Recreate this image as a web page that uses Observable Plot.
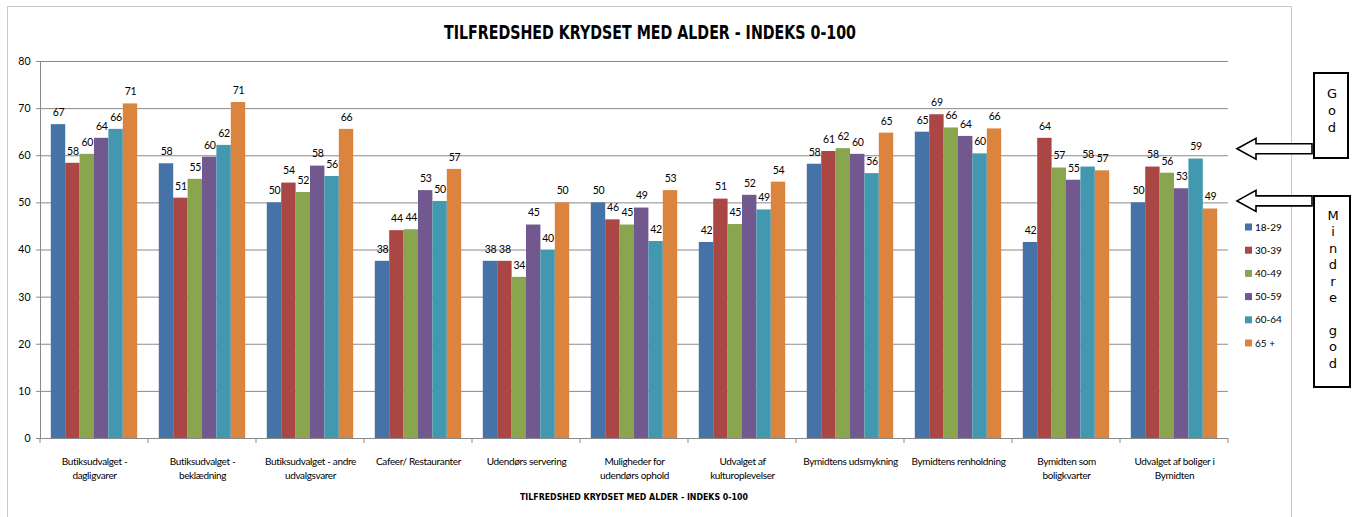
<!DOCTYPE html>
<html><head><meta charset="utf-8">
<script src="https://cdn.jsdelivr.net/npm/d3@7"></script>
<script src="https://cdn.jsdelivr.net/npm/@observablehq/plot@0.6"></script>
<style>
body{margin:0;background:#fff;}
#wrap{position:relative;width:1356px;height:517px;overflow:hidden;background:#fff;}
#wrap svg{position:absolute;left:0;top:0;}
#wrap svg g[aria-label="fx-axis tick label"] text{letter-spacing:-0.35px;}
#wrap svg g[aria-label="text"] text{letter-spacing:-0.3px;}
</style></head><body><div id="wrap"></div>
<script>
const categories = ["Butiksudvalget - dagligvarer","Butiksudvalget - beklædning","Butiksudvalget - andre udvalgsvarer","Cafeer/ Restauranter","Udendørs servering","Muligheder for udendørs ophold","Udvalget af kulturoplevelser","Bymidtens udsmykning","Bymidtens renholdning","Bymidten som boligkvarter","Udvalget af boliger i Bymidten"];
const categoryLabels = ["Butiksudvalget -\ndagligvarer","Butiksudvalget -\nbeklædning","Butiksudvalget - andre\nudvalgsvarer","Cafeer/ Restauranter","Udendørs servering","Muligheder for\nudendørs ophold","Udvalget af\nkulturoplevelser","Bymidtens udsmykning","Bymidtens renholdning","Bymidten som\nboligkvarter","Udvalget af boliger i\nBymidten"];
const series = ["18-29","30-39","40-49","50-59","60-64","65 +"];
const colors = ["#4572A7","#AA4643","#89A54E","#71588F","#4198AF","#DB843D"];
const v18_29 = [66.6, 58.3, 50.0, 37.6, 37.6, 50.0, 41.6, 58.2, 65.0, 41.6, 50.0];
const v30_39 = [58.4, 51.0, 54.2, 44.1, 37.6, 46.4, 50.8, 60.9, 68.7, 63.7, 57.6];
const v40_49 = [60.3, 55.0, 52.2, 44.3, 34.2, 45.3, 45.4, 61.5, 65.9, 57.4, 56.3];
const v50_59 = [63.7, 59.7, 57.8, 52.6, 45.3, 48.9, 51.6, 60.3, 64.1, 54.8, 53.0];
const v60_64 = [65.6, 62.2, 55.6, 50.3, 39.9, 41.8, 48.5, 56.2, 60.4, 57.6, 59.3];
const v65plus = [71.0, 71.3, 65.6, 57.1, 50.0, 52.6, 54.4, 64.8, 65.7, 56.8, 48.7];
const yTicks = [0, 10, 20, 30, 40, 50, 60, 70, 80];
const titleText = "TILFREDSHED KRYDSET MED ALDER - INDEKS 0-100";
const xTitleText = "TILFREDSHED KRYDSET  MED ALDER - INDEKS 0-100";
const noteGood = "God";
const noteLess = "Mindre god";
const noteGoodLevel = 60;
const noteLessLevel = 50;

const valuesBySeries = [v18_29, v30_39, v40_49, v50_59, v60_64, v65plus];
const data = categories.flatMap((c, i) => series.map((s, j) => ({category: c, series: s, value: valuesBySeries[j][i]})));
const labelOf = new Map(categories.map((c, i) => [c, categoryLabels[i]]));

const FONT = "Lato, 'Open Sans', sans-serif";
const TFONT = "'DejaVu Sans Condensed', 'DejaVu Sans', sans-serif";
const W = 1356, H = 517, ML = 40, MR = 128, MT = 61, MB = 79;
const PAD = 0.2;
const step = (W - ML - MR) / categories.length;
const halfGap = PAD * step / 2;

const plot = Plot.plot({
  width: W, height: H, marginLeft: ML, marginRight: MR, marginTop: MT, marginBottom: MB,
  style: {fontFamily: FONT, fontSize: "10.5px", background: "transparent", color: "#000", overflow: "visible"},
  fx: {domain: categories, paddingInner: PAD, paddingOuter: PAD / 2, round: false, label: null, axis: null},
  x: {domain: series, padding: 0, axis: null, round: false},
  y: {domain: [0, 80], label: null, axis: null},
  color: {domain: series, range: colors},
  marks: [
    Plot.ruleY(yTicks, {stroke: "#8a8a8a", strokeWidth: 1, insetLeft: -halfGap, insetRight: -halfGap}),
    Plot.barY(data, {fx: "category", x: "series", y: "value", fill: "series"}),
    Plot.text(data, {fx: "category", x: "series", y: "value", text: d => d3.format(".0f")(d.value), dy: -12, fill: "#000", fontSize: 10.5}),
    Plot.axisY({ticks: yTicks, tickSize: 4, tickPadding: 6, stroke: "#8a8a8a", fill: "#000", label: null, fontSize: 10.5, dx: -halfGap}),
    Plot.axisFx({anchor: "bottom", tickSize: 0, tickPadding: 17, lineHeight: 1.35, tickFormat: d => labelOf.get(d), label: null, fontSize: 10, fill: "#000"})
  ]
});
const wrap = document.getElementById("wrap");
wrap.appendChild(plot);

// Overlay: frame, axis lines, title, legend, notes
const fx = plot.scale("fx"), ys = plot.scale("y");
const y0 = ys.apply(0);
const yTop = ys.apply(80);
const x0 = fx.range[0], x1 = fx.range[1];
const svg = d3.select(wrap).append("svg").attr("width", W).attr("height", H)
  .style("font-family", FONT);
svg.append("rect").attr("x", 7.5).attr("y", 6.5).attr("width", 1291 - 7).attr("height", 600)
  .attr("fill", "none").attr("stroke", "#c8c8c8");
svg.append("line").attr("x1", x0 + 0.5).attr("x2", x0 + 0.5).attr("y1", yTop).attr("y2", y0)
  .attr("stroke", "#8a8a8a");
const n = categories.length;
for (let k = 0; k <= n; k++) {
  const x = x0 + k * (x1 - x0) / n;
  svg.append("line").attr("x1", x).attr("x2", x).attr("y1", y0).attr("y2", y0 + 5).attr("stroke", "#8a8a8a");
}
svg.append("text").attr("x", 650).attr("y", 39).attr("text-anchor", "middle")
  .attr("font-family", TFONT).attr("font-weight", "bold").attr("font-size", 19)
  .attr("textLength", 412).attr("lengthAdjust", "spacingAndGlyphs").text(titleText);
svg.append("text").attr("x", 634).attr("y", 500).attr("text-anchor", "middle")
  .attr("font-family", TFONT).attr("font-weight", "bold").attr("font-size", 9.5)
  .attr("textLength", 228).attr("lengthAdjust", "spacingAndGlyphs").text(xTitleText);
// legend
const lg = svg.append("g");
series.forEach((s, i) => {
  const yy = 227 + i * 23.2;
  lg.append("rect").attr("x", 1245).attr("y", yy - 3.5).attr("width", 7).attr("height", 7).attr("fill", colors[i]);
  lg.append("text").attr("x", 1255).attr("y", yy + 3.5).attr("font-size", 10).attr("fill", "#000").text(s);
});
// note boxes & arrows
function arrow(yc) {
  const tip = 1237, base = 1256, end = 1312;
  const p = [[tip, yc], [base, yc - 10.5], [base, yc - 5], [end, yc - 5], [end, yc + 5], [base, yc + 5], [base, yc + 10.5]];
  svg.append("polygon").attr("points", p.map(d => d.join(",")).join(" "))
    .attr("fill", "#fff").attr("stroke", "#000").attr("stroke-width", 1.6);
}
const yGood = ys.apply(noteGoodLevel) - 6.5, yLess = ys.apply(noteLessLevel) - 1.5;
arrow(yGood); arrow(yLess);
function box(x, y, w, h, word, y0t, stp) {
  svg.append("rect").attr("x", x).attr("y", y).attr("width", w).attr("height", h)
    .attr("fill", "#fff").attr("stroke", "#000").attr("stroke-width", 2);
  [...word].forEach((ch, i) => {
    svg.append("text").attr("x", x + w / 2 + 1).attr("y", y0t + i * stp).attr("text-anchor", "middle")
      .attr("font-size", 13).attr("font-family", "'DejaVu Sans', sans-serif").attr("fill", "#000").text(ch);
  });
}
box(1314, 73, 34, 85, noteGood, 98, 17);
box(1314, 196, 36, 191, noteLess, 220, 16.4);
</script></body></html>
